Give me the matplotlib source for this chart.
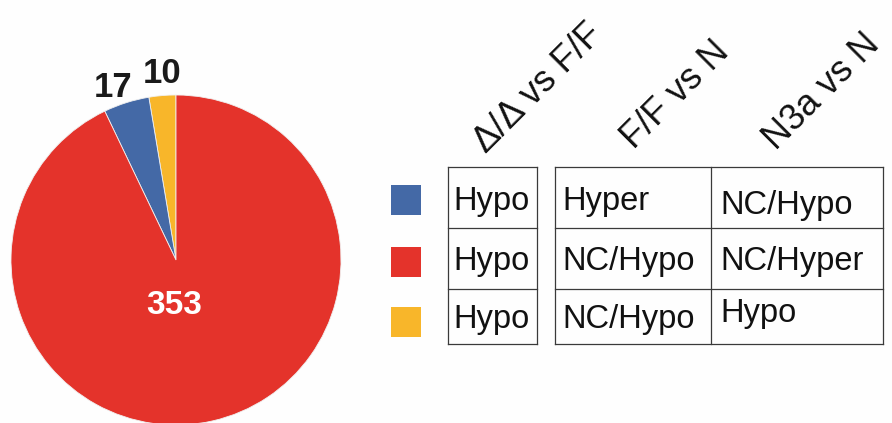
import matplotlib
matplotlib.use("Agg")
import matplotlib.pyplot as plt
from matplotlib.patches import Rectangle

# ---- data ----
slice_labels = ["10", "17", "353"]
slice_values = [10, 17, 353]
slice_colors = ["#F8B62A", "#4469A6", "#E4332B"]

comparisons = ["\u0394/\u0394 vs F/F", "F/F vs N", "N3a vs N"]
row_colors = ["#4469A6", "#E4332B", "#F8B62A"]
col1 = ["Hypo", "Hypo", "Hypo"]
col2 = ["Hyper", "NC/Hypo", "NC/Hypo"]
col3 = ["NC/Hypo", "NC/Hyper", "Hypo"]

W, H = 892, 423
plt.rcParams['font.family'] = ['Liberation Sans', 'DejaVu Sans']
fig = plt.figure(figsize=(W / 100, H / 100), dpi=100)
ax = fig.add_axes([0, 0, 1, 1])

def Y(yp):
    return H - yp

# pie
wedges, _ = ax.pie(slice_values, colors=slice_colors, startangle=90, counterclock=True,
                   center=(176, Y(260)), radius=165, frame=True,
                   wedgeprops=dict(linewidth=0.6, edgecolor="#f0f0f0"))
ax.text(113, Y(87), slice_labels[1], fontsize=25, fontweight='bold', ha='center', va='center', color='#1a1a1a')
ax.text(162, Y(73), slice_labels[0], fontsize=25, fontweight='bold', ha='center', va='center', color='#1a1a1a')
ax.text(174, Y(306), slice_labels[2], fontsize=24, fontweight='bold', ha='center', va='center', color='white')

# legend squares
sq_tops = [185, 247, 307]
for c, t in zip(row_colors, sq_tops):
    ax.add_patch(Rectangle((391, Y(t + 30)), 30, 30, facecolor=c, edgecolor='none'))

# table grid
lw = 0.9
rows_y = [167, 228, 289, 344]
t1x = [448, 537]
t2x = [555, 711, 883]
for y in rows_y:
    ax.plot(t1x, [Y(y), Y(y)], color='#3a3a3a', lw=lw)
    ax.plot([t2x[0], t2x[-1]], [Y(y), Y(y)], color='#3a3a3a', lw=lw)
for x in t1x + t2x:
    ax.plot([x, x], [Y(rows_y[0]), Y(rows_y[-1])], color='#3a3a3a', lw=lw)

fs = 23.5
base1 = [210, 270, 328]
base2 = [210, 270, 328]
base3 = [214, 270, 322]
for i in range(3):
    ax.text(453, Y(base1[i]), col1[i], fontsize=fs, ha='left', va='baseline', color='#111111')
    ax.text(562, Y(base2[i]), col2[i], fontsize=fs, ha='left', va='baseline', color='#111111')
    ax.text(720, Y(base3[i]), col3[i], fontsize=fs, ha='left', va='baseline', color='#111111')

# headers
hdr_pos = [(486, 154), (634, 150), (776, 151)]
for (x, y), s in zip(hdr_pos, comparisons):
    ax.text(x, Y(y), s, fontsize=26, rotation=45, rotation_mode='anchor',
            ha='left', va='baseline', color='#111111')

ax.set_xlim(0, W)
ax.set_ylim(0, H)
ax.set_aspect('equal')
ax.axis('off')
fig.savefig("out.png", dpi=100, facecolor='#fefefe')
